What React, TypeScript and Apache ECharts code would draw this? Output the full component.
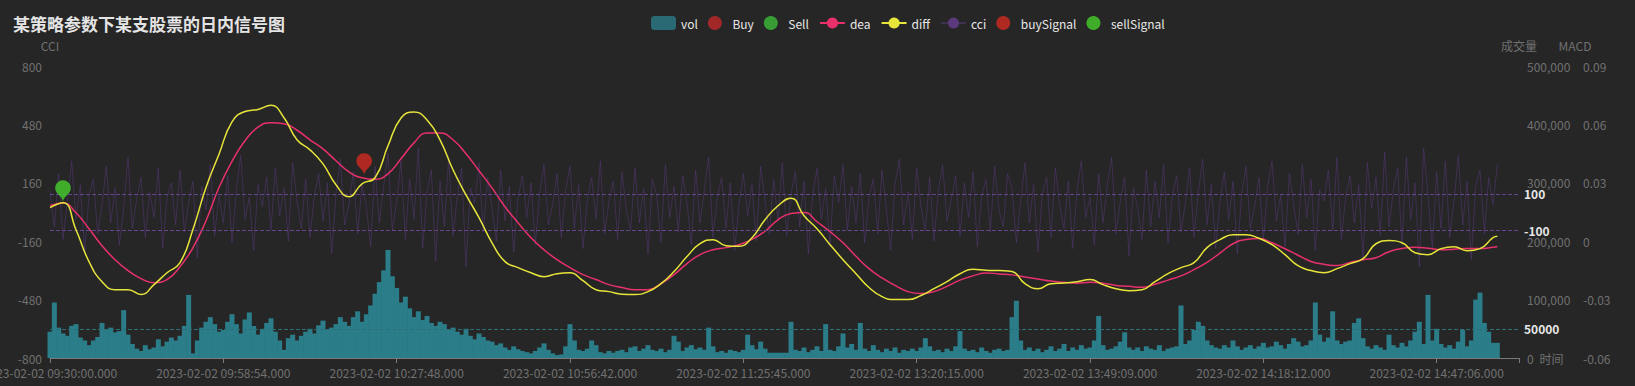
import React, { useEffect, useRef } from 'react';
import * as echarts from 'echarts';

const TITLE = '某策略参数下某支股票的日内信号图';
const X_TICK_LABELS = [
  '2023-02-02 09:30:00.000', '2023-02-02 09:58:54.000', '2023-02-02 10:27:48.000',
  '2023-02-02 10:56:42.000', '2023-02-02 11:25:45.000', '2023-02-02 13:20:15.000',
  '2023-02-02 13:49:09.000', '2023-02-02 14:18:12.000', '2023-02-02 14:47:06.000',
];
const X_TICK_STEP = 40; // samples between labelled ticks
const X_LAST = 339; // last sample slot of the axis

const LEGEND = ['vol', 'Buy', 'Sell', 'dea', 'diff', 'cci', 'buySignal', 'sellSignal'];

// volume, one value per sample
const volume = [
  45000, 95000, 52000, 42000, 38000, 55000, 58000, 35000, 30000, 22000,
  30000, 36000, 60000, 48000, 52000, 44000, 46000, 82000, 40000, 24000,
  16000, 12000, 22000, 15000, 18000, 32000, 20000, 28000, 35000, 30000,
  38000, 55000, 108000, 8000, 30000, 52000, 62000, 70000, 58000, 45000,
  48000, 62000, 75000, 58000, 42000, 66000, 78000, 55000, 40000, 50000,
  60000, 68000, 45000, 30000, 14000, 34000, 40000, 30000, 38000, 45000,
  50000, 42000, 56000, 64000, 48000, 52000, 58000, 70000, 62000, 55000,
  70000, 80000, 62000, 75000, 90000, 110000, 130000, 150000, 185000, 140000,
  120000, 95000, 105000, 85000, 70000, 80000, 65000, 72000, 60000, 55000,
  62000, 58000, 48000, 52000, 45000, 40000, 50000, 38000, 32000, 42000,
  36000, 30000, 28000, 22000, 25000, 18000, 14000, 20000, 15000, 12000,
  10000, 8000, 12000, 18000, 25000, 14000, 8000, 5000, 6000, 20000,
  58000, 30000, 14000, 12000, 16000, 30000, 22000, 10000, 8000, 12000,
  9000, 12000, 14000, 10000, 18000, 20000, 12000, 16000, 22000, 14000,
  12000, 16000, 10000, 14000, 38000, 28000, 12000, 18000, 22000, 15000,
  18000, 14000, 52000, 20000, 10000, 12000, 9000, 14000, 12000, 10000,
  14000, 40000, 22000, 15000, 28000, 16000, 9000, 9000, 9000, 9000,
  9000, 62000, 14000, 12000, 18000, 10000, 14000, 20000, 12000, 58000,
  14000, 12000, 20000, 42000, 18000, 24000, 14000, 60000, 16000, 12000,
  22000, 14000, 10000, 16000, 12000, 18000, 9000, 14000, 12000, 16000,
  12000, 18000, 34000, 20000, 12000, 14000, 10000, 16000, 12000, 20000,
  46000, 16000, 12000, 14000, 10000, 18000, 12000, 9000, 14000, 16000,
  12000, 14000, 70000, 98000, 30000, 14000, 18000, 12000, 16000, 10000,
  14000, 20000, 12000, 16000, 24000, 12000, 18000, 14000, 22000, 16000,
  18000, 30000, 72000, 22000, 14000, 16000, 20000, 28000, 44000, 18000,
  14000, 18000, 12000, 20000, 16000, 14000, 22000, 12000, 16000, 18000,
  20000, 90000, 24000, 30000, 48000, 62000, 55000, 30000, 22000, 18000,
  16000, 22000, 18000, 30000, 20000, 14000, 18000, 22000, 16000, 20000,
  26000, 18000, 20000, 28000, 22000, 16000, 24000, 34000, 28000, 20000,
  22000, 30000, 95000, 40000, 28000, 35000, 80000, 30000, 24000, 28000,
  30000, 60000, 68000, 34000, 20000, 16000, 22000, 18000, 14000, 40000,
  22000, 18000, 26000, 20000, 30000, 45000, 62000, 24000, 108000, 30000,
  50000, 24000, 18000, 22000, 16000, 28000, 48000, 20000, 30000, 100000,
  112000, 60000, 45000, 26000, 26000,
];

// CCI, one value per sample
const cci = [
  120, -80, 210, -150, 60, 280, -40, 150, -220, 90,
  180, -120, 40, 250, -60, 130, -180, 20, 300, -90,
  70, 190, -140, 110, -30, 240, -200, 80, 160, -70,
  230, -110, 50, 170, -250, 140, 10, 260, -130, 90,
  -60, 200, -170, 120, 310, -40, 80, -210, 150, 30,
  190, -100, 240, -20, 130, -160, 270, 60, -90, 180,
  -140, 90, 210, -50, 160, -230, 100, 290, -70, 40,
  220, -120, 150, 30, -190, 250, -60, 140, 320, -100,
  60, 280, -150, 180, -40, 350, -200, 110, 230, -270,
  170, -80, 300, -130, 90, 240, -300, 130, 50, 270,
  -110, 190, 20, -160, 230, -50, 140, -220, 80, 200,
  -30, 160, -180, 100, 260, -70, 40, 210, -140, 120,
  250, -90, 150, -200, 70, 190, -40, 280, -120, 60,
  170, -150, 220, 10, -100, 240, -60, 130, -230, 180,
  90, -170, 260, -30, 140, -110, 200, 50, -180, 230,
  -60, 120, 300, -140, 80, 190, -90, 160, -210, 40,
  210, -20, 150, -160, 250, 60, -120, 180, -50, 270,
  -130, 100, 220, -80, 170, -230, 90, 240, -40, 130,
  -190, 200, 50, 260, -100, 140, -60, 210, -170, 80,
  180, -120, 230, 20, -210, 150, 290, -70, 110, -150,
  240, 30, -100, 190, -160, 120, 260, -50, 70, 200,
  -130, 160, -30, 220, -190, 90, 180, -110, 250, 10,
  -80, 210, 130, -170, 60, 270, -60, 150, -220, 100,
  190, -140, 240, 40, -90, 170, -200, 120, 280, -30,
  80, -180, 210, -60, 150, 300, -120, 60, 190, -240,
  130, 20, -150, 230, -80, 170, -30, 260, -170, 90,
  200, -110, 50, 240, -140, 110, 290, -70, 150, -200,
  60, 220, -40, 170, -230, 100, 250, -90, 30, 190,
  -160, 140, 280, -50, 90, -190, 210, 40, -120, 260,
  -30, 180, -210, 120, 60, 230, -100, 300, -150, 80,
  200, -60, 150, -250, 270, 20, 190, -130, 330, -80,
  120, 240, -180, 300, -40, 160, -300, 350, 90, -200,
  220, -90, 280, -140, 60, 310, -70, 170, -260, 140,
  230, -120, 190, 40, 260,
];

// MACD lines, sampled every 3rd sample (0, 3, ... 333), plus the last sample
const MACD_STEP = 3;
const MACD_LAST_SAMPLE = 334;
const diff = [
  0.0172, 0.0197, 0.0059, -0.0105, -0.0208, -0.0249, -0.0249, -0.0274, -0.0223, -0.0162,
  -0.011, 0.0062, 0.0276, 0.0447, 0.0613, 0.0666, 0.0677, 0.0698, 0.0634, 0.0521,
  0.0469, 0.0397, 0.029, 0.0228, 0.0295, 0.0326, 0.049, 0.0633, 0.0664, 0.0623,
  0.0521, 0.0367, 0.0238, 0.0121, -0.0008, -0.0105, -0.0136, -0.0162, -0.0182, -0.0167,
  -0.0162, -0.0203, -0.0249, -0.0259, -0.0272, -0.0274, -0.0259, -0.0218, -0.0156, -0.0079,
  -0.0013, 0.0008, -0.0023, -0.0026, 0.0018, 0.011, 0.0182, 0.0221, 0.0131, 0.0064,
  -0.0018, -0.0095, -0.0167, -0.0238, -0.0285, -0.03, -0.03, -0.0279, -0.0244, -0.0208,
  -0.0167, -0.0144, -0.0149, -0.0151, -0.0156, -0.0218, -0.0244, -0.0218, -0.0215, -0.0208,
  -0.0197, -0.0223, -0.0244, -0.0254, -0.0249, -0.0208, -0.0167, -0.0136, -0.011, -0.0033,
  0.0008, 0.0033, 0.0033, 0.0015, -0.0018, -0.0069, -0.0126, -0.0151, -0.0162, -0.0141,
  -0.0115, -0.009, -0.0013, 0.0003, -0.0008, -0.0059, -0.0069, -0.0038, -0.0028, -0.0049,
  -0.0038, 0.0018, 0.0025,
];
const dea = [
  0.0182, 0.0196, 0.0146, 0.0064, -0.0023, -0.0095, -0.0151, -0.0192, -0.0213, -0.0197,
  -0.0131, -0.0033, 0.0105, 0.0276, 0.041, 0.0516, 0.0586, 0.0608, 0.0603, 0.057,
  0.0521, 0.0474, 0.0413, 0.0356, 0.0326, 0.0318, 0.0346, 0.0423, 0.0505, 0.0556,
  0.0556, 0.0521, 0.0449, 0.0362, 0.0274, 0.0177, 0.0095, 0.0018, -0.0044, -0.0095,
  -0.0136, -0.0172, -0.0197, -0.0223, -0.0238, -0.0249, -0.0249, -0.0218, -0.0172, -0.0115,
  -0.0069, -0.0044, -0.0033, -0.0018, 0.0009, 0.0051, 0.011, 0.0142, 0.0148, 0.01,
  0.0049, -0.0008, -0.0077, -0.0141, -0.0189, -0.0227, -0.0259, -0.0269, -0.0259, -0.0232,
  -0.02, -0.0178, -0.0163, -0.0168, -0.0173, -0.0184, -0.0194, -0.0205, -0.0211, -0.0216,
  -0.0211, -0.0216, -0.0227, -0.0232, -0.0237, -0.0221, -0.02, -0.0178, -0.0146, -0.0109,
  -0.0061, -0.0013, 0.0009, 0.0014, -0.0008, -0.0039, -0.0072, -0.0104, -0.0119, -0.0125,
  -0.0109, -0.0095, -0.0085, -0.0054, -0.0038, -0.0031, -0.0036, -0.0044, -0.0041, -0.0038,
  -0.0038, -0.0031, -0.0027,
];

// signals: [sample, MACD value]
const buySignals = [[72.5, 0.0336]];
const sellSignals = [[3, 0.0197]];
const buyPoints: number[][] = [];
const sellPoints: number[][] = [];

const CCI_LINES = [100, -100];
const VOL_LINE = 50000;

const FONT = "'Noto Sans CJK SC', 'Noto Sans', sans-serif";
const AXIS_TEXT = '#717171';

const macdPairs = (arr: number[]) =>
  arr.map((v, k) => [k === arr.length - 1 ? MACD_LAST_SAMPLE : k * MACD_STEP, v]);

export default function App() {
  const ref = useRef<HTMLDivElement>(null);
  useEffect(() => {
    document.body.style.margin = '0';
    document.body.style.background = '#262626';
    const chart = echarts.init(ref.current!, null, { renderer: 'svg' });
    const yAxisCommon = {
      type: 'value',
      axisLine: { show: false },
      axisTick: { show: false },
      splitLine: { show: false },
      axisLabel: { color: AXIS_TEXT, fontSize: 12, fontFamily: FONT },
      nameTextStyle: { color: AXIS_TEXT, fontSize: 12, fontFamily: FONT },
    };
    chart.setOption({
      animation: false,
      backgroundColor: '#262626',
      textStyle: { fontFamily: FONT },
      title: {
        text: TITLE,
        left: 8,
        top: 10,
        textStyle: { color: '#e4e4e4', fontSize: 17, fontWeight: 'bold', fontFamily: FONT },
      },
      legend: {
        left: 646,
        top: 11,
        itemWidth: 25,
        itemHeight: 14,
        itemGap: 10,
        textStyle: { color: '#e8e8e8', fontSize: 12, fontFamily: FONT },
        data: [
          { name: LEGEND[0], itemStyle: { color: '#2a6a74' } },
          { name: LEGEND[1], icon: 'circle' },
          { name: LEGEND[2], icon: 'circle' },
          LEGEND[3],
          LEGEND[4],
          LEGEND[5],
          { name: LEGEND[6], icon: 'circle' },
          { name: LEGEND[7], icon: 'circle' },
        ],
      },
      grid: { left: 50, right: 116, top: 66, bottom: 28, containLabel: false, outerBoundsMode: 'none' },
      xAxis: {
        type: 'value',
        min: 0,
        max: X_LAST,
        interval: X_TICK_STEP,
        name: '时间',
        nameGap: 10,
        nameTextStyle: { color: AXIS_TEXT, fontSize: 12, fontFamily: FONT },
        splitLine: { show: false },
        axisLine: { onZero: false, lineStyle: { color: '#7a7a7a' } },
        axisTick: { lineStyle: { color: '#7a7a7a' } },
        axisLabel: {
          color: AXIS_TEXT,
          fontSize: 12,
          fontFamily: FONT,
          formatter: (v: number) => {
            const k = v / X_TICK_STEP;
            return Number.isInteger(k) && X_TICK_LABELS[k] ? X_TICK_LABELS[k] : '';
          },
        },
      },
      yAxis: [
        { ...yAxisCommon, name: 'CCI', position: 'left', min: -800, max: 800, interval: 320 },
        { ...yAxisCommon, name: '成交量', position: 'right', min: 0, max: 500000, interval: 100000 },
        { ...yAxisCommon, name: 'MACD', position: 'right', offset: 56, min: -0.06, max: 0.09, interval: 0.03 },
      ],
      series: [
        {
          name: 'vol',
          type: 'bar',
          yAxisIndex: 1,
          barWidth: 5,
          clip: true,
          z: 1,
          itemStyle: { color: '#2a7d89' },
          data: volume.map((v, i) => [i, v]),
          markLine: {
            silent: true,
            symbol: ['none', 'none'],
            lineStyle: { color: '#2b6f79', type: 'dashed', width: 1 },
            label: { color: '#e6e6e6', fontWeight: 'bold', fontSize: 12, fontFamily: FONT },
            data: [{ yAxis: VOL_LINE }],
          },
        },
        { name: 'Buy', type: 'scatter', yAxisIndex: 2, itemStyle: { color: '#c0282b' }, data: buyPoints },
        { name: 'Sell', type: 'scatter', yAxisIndex: 2, itemStyle: { color: '#3dbb3a' }, data: sellPoints },
        {
          name: 'dea',
          type: 'line',
          yAxisIndex: 2,
          smooth: true,
          symbol: 'circle',
          showSymbol: false,
          z: 4,
          itemStyle: { color: '#e8306b' },
          lineStyle: { color: '#e8306b', width: 1.5 },
          data: macdPairs(dea),
        },
        {
          name: 'diff',
          type: 'line',
          yAxisIndex: 2,
          smooth: true,
          symbol: 'circle',
          showSymbol: false,
          z: 5,
          itemStyle: { color: '#e8e53a' },
          lineStyle: { color: '#e8e53a', width: 1.5 },
          data: macdPairs(diff),
        },
        {
          name: 'cci',
          type: 'line',
          yAxisIndex: 0,
          symbol: 'circle',
          showSymbol: false,
          z: 2,
          itemStyle: { color: '#5a3a7c' },
          lineStyle: { color: '#5a3a7c', width: 1, opacity: 0.5 },
          data: cci.map((v, i) => [i, v]),
          markLine: {
            silent: true,
            symbol: ['none', 'none'],
            lineStyle: { color: '#66458c', type: 'dashed', width: 1 },
            label: { color: '#e6e6e6', fontWeight: 'bold', fontSize: 12, fontFamily: FONT },
            data: CCI_LINES.map((v) => ({ yAxis: v })),
          },
        },
        {
          name: 'buySignal',
          type: 'scatter',
          yAxisIndex: 2,
          symbol: 'pin',
          symbolSize: 26,
          z: 10,
          itemStyle: { color: '#cf2a20' },
          data: buySignals,
        },
        {
          name: 'sellSignal',
          type: 'scatter',
          yAxisIndex: 2,
          symbol: 'pin',
          symbolSize: 26,
          z: 10,
          itemStyle: { color: '#46d02a' },
          data: sellSignals,
        },
      ],
    });
    return () => chart.dispose();
  }, []);
  return (
    <div
      ref={ref}
      style={{ position: 'fixed', left: 0, top: 0, width: 1635, height: 386, background: '#262626' }}
    />
  );
}
